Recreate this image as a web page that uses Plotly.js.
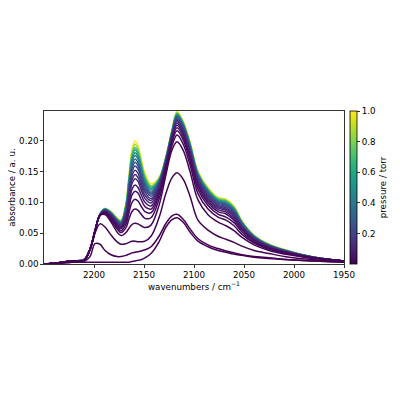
<!DOCTYPE html>
<html><head><meta charset="utf-8">
<script src="https://cdn.plot.ly/plotly-3.0.1.min.js"></script>
<style>html,body{margin:0;padding:0;background:#fff}#chart{width:400px;height:400px}</style>
</head><body><div id="chart"></div>
<script>
// wavenumber grid (cm^-1)
const wavenumbers = [2250,2235,2222,2210,2204,2199,2194,2189,2183,2177,2173,2168,2165,2162,2159,2156,2153,2149,2143,2135,2128,2122,2117,2111,2104,2096,2086,2076,2068,2060,2052,2040,2025,2005,1980,1950];
// pressure of each spectrum (torr)
const pressures = [0.001,0.002,0.005,0.01,0.02,0.03,0.05,0.07,0.1,0.13,0.16,0.2,0.25,0.3,0.4,0.5,0.6,0.7,0.85,1.0];
// absorbance spectra (a.u.), one per pressure
const spec01 = [0.000,0.001,0.003,0.003,0.003,0.003,0.003,0.003,0.003,0.003,0.003, 0.003,0.003,0.004,0.005,0.006,0.007,0.010,0.017, 0.036,0.060,0.072,0.075,0.068,0.052,0.037,0.028,0.022,0.019,0.016,0.014,0.011,0.009,0.007,0.005,0.003];
const spec02 = [0.000,0.001,0.003,0.004,0.012,0.033,0.032,0.022,0.015,0.012,0.012, 0.014,0.016,0.018,0.019,0.020,0.021,0.023,0.028, 0.045,0.066,0.078,0.0805,0.073,0.057,0.041,0.031,0.025,0.021,0.018,0.015,0.012,0.010,0.007,0.005,0.003];
const spec03 = [0.000,0.002,0.004,0.006,0.022,0.050,0.065,0.060,0.047,0.036,0.032, 0.033,0.035,0.037,0.037,0.036,0.036,0.037,0.045, 0.075,0.115,0.140,0.148,0.138,0.110,0.071,0.055,0.045,0.040,0.035,0.029,0.022,0.017,0.011,0.007,0.004];
const spec04 = [0.000,0.002,0.005,0.006,0.024,0.055,0.079,0.080,0.068,0.052,0.046, 0.051,0.058,0.064,0.066,0.065,0.062,0.059,0.063, 0.095,0.145,0.185,0.198,0.185,0.150,0.104,0.080,0.068,0.062,0.054,0.043,0.031,0.022,0.015,0.009,0.005];
const spec05 = [0.000,0.002,0.005,0.006,0.024,0.054,0.079,0.082,0.071,0.057,0.051, 0.059,0.073,0.085,0.089,0.087,0.081,0.074,0.075, 0.105,0.152,0.192,0.209,0.195,0.161,0.114,0.089,0.076,0.071,0.062,0.048,0.034,0.024,0.016,0.009,0.005];
const spec06 = [0.000,0.002,0.005,0.006,0.024,0.054,0.079,0.083,0.074,0.060,0.054, 0.065,0.083,0.100,0.105,0.102,0.094,0.085,0.083, 0.112,0.156,0.197,0.216,0.202,0.168,0.121,0.095,0.081,0.076,0.067,0.052,0.036,0.025,0.017,0.010,0.005];
const spec07 = [0.000,0.002,0.005,0.006,0.024,0.054,0.079,0.084,0.075,0.062,0.057, 0.070,0.092,0.112,0.118,0.115,0.105,0.093,0.089, 0.116,0.159,0.201,0.221,0.207,0.173,0.126,0.099,0.085,0.081,0.071,0.055,0.038,0.026,0.018,0.010,0.005];
const spec08 = [0.000,0.002,0.005,0.006,0.024,0.054,0.079,0.085,0.077,0.064,0.059, 0.074,0.098,0.121,0.128,0.124,0.113,0.100,0.094, 0.120,0.162,0.203,0.225,0.211,0.176,0.129,0.102,0.088,0.084,0.074,0.057,0.039,0.027,0.018,0.010,0.005];
const spec09 = [0.000,0.002,0.005,0.006,0.024,0.054,0.079,0.086,0.078,0.065,0.060, 0.077,0.105,0.130,0.138,0.134,0.121,0.106,0.099, 0.123,0.163,0.205,0.228,0.214,0.179,0.132,0.105,0.091,0.087,0.077,0.058,0.040,0.028,0.018,0.010,0.005];
const spec10 = [0.000,0.002,0.005,0.006,0.024,0.053,0.080,0.086,0.079,0.066,0.062, 0.080,0.110,0.136,0.145,0.140,0.127,0.111,0.103, 0.125,0.165,0.207,0.231,0.217,0.182,0.135,0.108,0.093,0.089,0.079,0.060,0.041,0.028,0.019,0.010,0.005];
const spec11 = [0.000,0.002,0.005,0.006,0.024,0.053,0.080,0.087,0.080,0.068,0.063, 0.083,0.114,0.143,0.152,0.147,0.133,0.116,0.106, 0.127,0.166,0.208,0.233,0.218,0.184,0.137,0.110,0.095,0.091,0.081,0.061,0.042,0.029,0.019,0.010,0.005];
const spec12 = [0.000,0.002,0.005,0.007,0.024,0.053,0.080,0.087,0.080,0.069,0.064, 0.085,0.119,0.149,0.159,0.154,0.139,0.120,0.110, 0.129,0.168,0.210,0.235,0.220,0.186,0.139,0.112,0.097,0.093,0.083,0.062,0.043,0.029,0.019,0.010,0.005];
const spec13 = [0.000,0.002,0.005,0.007,0.024,0.053,0.080,0.088,0.081,0.070,0.065, 0.087,0.123,0.154,0.165,0.159,0.144,0.124,0.113, 0.131,0.169,0.211,0.237,0.223,0.188,0.141,0.114,0.099,0.095,0.085,0.064,0.043,0.030,0.020,0.011,0.005];
const spec14 = [0.000,0.002,0.005,0.007,0.024,0.053,0.080,0.088,0.082,0.071,0.066, 0.089,0.126,0.159,0.170,0.164,0.148,0.128,0.115, 0.133,0.170,0.213,0.239,0.225,0.190,0.143,0.116,0.100,0.097,0.086,0.065,0.044,0.030,0.020,0.011,0.005];
const spec15 = [0.000,0.002,0.005,0.007,0.024,0.053,0.080,0.088,0.082,0.071,0.067, 0.091,0.130,0.164,0.176,0.170,0.153,0.131,0.118, 0.134,0.171,0.213,0.240,0.225,0.191,0.144,0.117,0.102,0.098,0.088,0.066,0.044,0.030,0.020,0.011,0.005];
const spec16 = [0.000,0.002,0.005,0.007,0.024,0.052,0.081,0.089,0.083,0.072,0.068, 0.093,0.133,0.169,0.1805,0.174,0.156,0.134,0.121, 0.135,0.172,0.214,0.2415,0.227,0.193,0.145,0.118,0.103,0.099,0.089,0.067,0.045,0.031,0.020,0.011,0.005];
const spec17 = [0.000,0.002,0.005,0.007,0.024,0.052,0.081,0.089,0.083,0.073,0.068, 0.095,0.136,0.173,0.185,0.178,0.160,0.137,0.123, 0.136,0.173,0.215,0.243,0.228,0.194,0.146,0.120,0.104,0.101,0.090,0.067,0.045,0.031,0.020,0.011,0.005];
const spec18 = [0.000,0.002,0.005,0.007,0.024,0.052,0.081,0.089,0.084,0.073,0.069, 0.096,0.138,0.176,0.189,0.182,0.163,0.140,0.125, 0.137,0.173,0.216,0.244,0.229,0.195,0.147,0.121,0.105,0.102,0.091,0.068,0.046,0.031,0.021,0.011,0.005];
const spec19 = [0.000,0.002,0.005,0.007,0.024,0.052,0.081,0.090,0.084,0.074,0.070, 0.098,0.141,0.181,0.194,0.187,0.168,0.143,0.127, 0.139,0.174,0.217,0.2455,0.231,0.197,0.149,0.122,0.107,0.104,0.093,0.069,0.046,0.032,0.021,0.011,0.005];
const spec20 = [0.000,0.002,0.005,0.007,0.024,0.052,0.081,0.090,0.085,0.075,0.071, 0.100,0.145,0.186,0.1995,0.192,0.172,0.147,0.130, 0.140,0.175,0.218,0.247,0.232,0.198,0.150,0.124,0.108,0.105,0.094,0.070,0.047,0.032,0.021,0.011,0.005];
const spectra = [spec01,spec02,spec03,spec04,spec05,spec06,spec07,spec08,spec09,spec10,spec11,spec12,spec13,spec14,spec15,spec16,spec17,spec18,spec19,spec20];

const xTickVals = [2200,2150,2100,2050,2000,1950];
const yTickVals = [0,0.05,0.10,0.15,0.20];
const cbTickVals = [0.2,0.4,0.6,0.8,1.0];

const viridis = [[0,'#440154'],[0.0627,'#48186a'],[0.1255,'#472d7b'],[0.1882,'#424086'],[0.2510,'#3b528b'],[0.3137,'#33638d'],[0.3765,'#2c728e'],[0.4392,'#26828e'],[0.5020,'#21918c'],[0.5647,'#1fa088'],[0.6275,'#28ae80'],[0.6902,'#3fbc73'],[0.7529,'#5ec962'],[0.8157,'#84d44b'],[0.8784,'#addc30'],[0.9412,'#d8e219'],[1,'#fde725']];
function hex2rgb(h){return [parseInt(h.slice(1,3),16),parseInt(h.slice(3,5),16),parseInt(h.slice(5,7),16)];}
function cmap(t){
  t=Math.max(0,Math.min(1,t));
  for(let i=1;i<viridis.length;i++){
    if(t<=viridis[i][0]){
      const a=viridis[i-1],b=viridis[i];
      const f=(t-a[0])/(b[0]-a[0]);
      const ca=hex2rgb(a[1]),cb=hex2rgb(b[1]);
      return 'rgb('+ca.map((v,k)=>Math.round(v+(cb[k]-v)*f)).join(',')+')';
    }
  }
  return viridis[viridis.length-1][1];
}
const pmin = Math.min(...pressures), pmax = Math.max(...pressures);

const traces = [];
for (let i = spectra.length-1; i >= 0; i--) {
  traces.push({
    type:'scatter', mode:'lines', x: wavenumbers, y: spectra[i],
    line:{color: cmap((pressures[i]-pmin)/(pmax-pmin)), width:1.5, shape:'spline', smoothing:1},
    showlegend:false, hoverinfo:'skip'
  });
}
// colorbar carrier (no visible points)
traces.push({
  type:'scatter', mode:'markers', x: pressures.map(()=>null), y: pressures.map(()=>null),
  showlegend:false, hoverinfo:'skip',
  marker:{color: pressures, colorscale: viridis, cmin: pmin, cmax: pmax, showscale:true,
    colorbar:{x:1.0197, xanchor:'left', xref:'paper', y:0.5, yanchor:'middle', len:1, lenmode:'fraction',
      thickness:7, thicknessmode:'pixels', xpad:0, ypad:0, outlinewidth:0.8, outlinecolor:'#000',
      ticks:'outside', ticklen:3, tickwidth:0.8, tickcolor:'#000',
      tickvals: cbTickVals, ticktext: cbTickVals.map(v=>v.toFixed(1)),
      tickfont:{family:'DejaVu Sans', size:8.7, color:'#000'},
      title:{text:'pressure / torr', side:'right', font:{family:'DejaVu Sans', size:8.7, color:'#000'}}}}
});

const axisCommon = {showgrid:false, zeroline:false, showline:true, mirror:true, linecolor:'#000', linewidth:0.8,
  ticks:'outside', ticklen:3, tickwidth:0.8, tickcolor:'#000',
  tickfont:{family:'DejaVu Sans', size:8.7, color:'#000'}};

const layout = {
  width:400, height:400,
  margin:{l:44, r:52, t:111, b:136},
  paper_bgcolor:'#fff', plot_bgcolor:'#fff',
  font:{family:'DejaVu Sans', color:'#000'},
  xaxis: Object.assign({}, axisCommon, {range:[2250,1950], tickvals:xTickVals, ticktext:xTickVals.map(String),
    title:{text:'wavenumbers / cm<sup>\u22121</sup>', font:{family:'DejaVu Sans', size:8.7, color:'#000'}, standoff:3}}),
  yaxis: Object.assign({}, axisCommon, {range:[0,0.248], tickvals:yTickVals, ticktext:yTickVals.map(v=>v.toFixed(2)),
    title:{text:'absorbance / a. u.', font:{family:'DejaVu Sans', size:8.7, color:'#000'}, standoff:1}}),
  hovermode:false
};
Plotly.newPlot('chart', traces, layout, {displayModeBar:false, staticPlot:true});
</script></body></html>
